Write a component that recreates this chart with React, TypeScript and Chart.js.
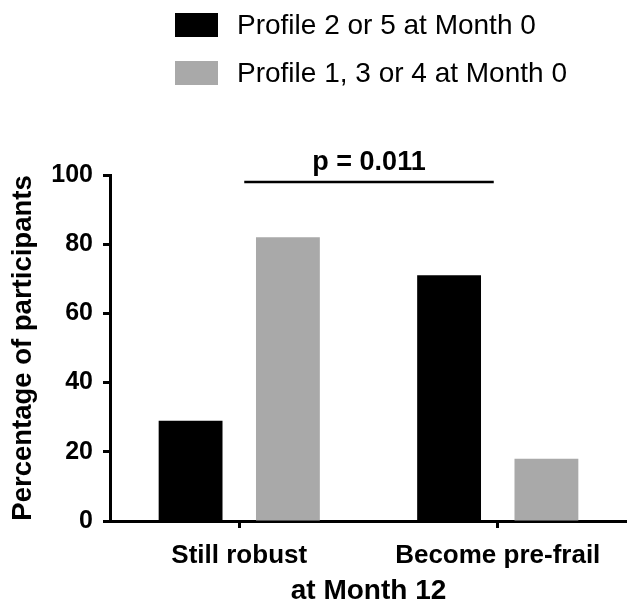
import React, { useEffect, useRef } from "react";
import { Chart, registerables } from "chart.js";

Chart.register(...registerables);

const categories = ["Still robust", "Become pre-frail"];
const seriesLabels = ["Profile 2 or 5 at Month 0", "Profile 1, 3 or 4 at Month 0"];
const profile25 = [29, 71];
const profile134 = [82, 18];
const seriesColors = ["#000000", "#a9a9a9"];
const yTicks = [0, 20, 40, 60, 80, 100];
const yTitle = "Percentage of participants";
const xTitle = "at Month 12";
const pLabel = "p = 0.011";
const pLineValue = 98;
const pTextValue = 104;

const FONT = "'Liberation Sans', Arial, sans-serif";

const overlayPlugin = {
  id: "overlay",
  afterDraw(chart: any) {
    const ctx = chart.ctx;
    const x = chart.scales.x;
    const y = chart.scales.y;
    ctx.save();
    // significance line
    const x0 = x.getPixelForValue(0) + 5;
    const x1 = x.getPixelForValue(1) - 4;
    const ly = y.getPixelForValue(pLineValue);
    ctx.strokeStyle = "#000";
    ctx.lineWidth = 2.5;
    ctx.beginPath();
    ctx.moveTo(x0, ly);
    ctx.lineTo(x1, ly);
    ctx.stroke();
    ctx.fillStyle = "#000";
    ctx.font = `bold 27px ${FONT}`;
    ctx.textAlign = "center";
    ctx.textBaseline = "middle";
    ctx.fillText(pLabel, (x0 + x1) / 2, y.getPixelForValue(pTextValue) + 1);

    // legend
    const ds = chart.data.datasets;
    ctx.font = `28px ${FONT}`;
    ctx.textAlign = "left";
    ds.forEach((d: any, i: number) => {
      const top = 13 + i * 48;
      ctx.fillStyle = d.backgroundColor;
      ctx.fillRect(175, top, 43, 24);
      ctx.fillStyle = "#000";
      ctx.fillText(d.label, 237, top + 13);
    });
    ctx.restore();
  },
};

export default function App() {
  const ref = useRef<HTMLCanvasElement>(null);
  useEffect(() => {
    document.body.style.margin = "0";
    const chart = new Chart(ref.current!, {
      type: "bar",
      data: {
        labels: categories,
        datasets: [
          { label: seriesLabels[0], data: profile25, backgroundColor: seriesColors[0] },
          { label: seriesLabels[1], data: profile134, backgroundColor: seriesColors[1] },
        ],
      },
      options: {
        animation: false,
        responsive: false,
        devicePixelRatio: 1,
        categoryPercentage: 0.753,
        barPercentage: 0.656,
        layout: { padding: { top: 175, left: 0, right: 0, bottom: 0 } },
        plugins: { legend: { display: false }, tooltip: { enabled: false } },
        scales: {
          x: {
            offset: true,
            afterFit: (s: any) => {
              s.height = 84;
            },
            grid: {
              offset: false,
              drawOnChartArea: false,
              tickLength: 7,
              tickWidth: 3,
              tickColor: "#000",
            },
            border: { color: "#000", width: 3 },
            ticks: {
              color: "#000",
              font: { family: FONT, size: 26, weight: "bold" },
              padding: 12,
              maxRotation: 0,
            },
            title: {
              display: true,
              text: xTitle,
              color: "#000",
              font: { family: FONT, size: 28, weight: "bold", lineHeight: 1 },
              padding: { top: 0, bottom: 0 },
            },
          },
          y: {
            min: 0,
            max: 100,
            afterFit: (s: any) => {
              s.width = 110;
            },
            afterBuildTicks: (s: any) => {
              s.ticks = yTicks.map((v) => ({ value: v }));
            },
            grid: {
              drawOnChartArea: false,
              tickLength: 7,
              tickWidth: 3,
              tickColor: "#000",
            },
            border: { color: "#000", width: 3 },
            ticks: {
              color: "#000",
              font: { family: FONT, size: 25, weight: "bold" },
              padding: 10,
            },
            title: {
              display: true,
              text: yTitle,
              color: "#000",
              font: { family: FONT, size: 27.5, weight: "bold", lineHeight: 1 },
              padding: { top: 10, bottom: 0 },
            },
          },
        },
      },
      plugins: [overlayPlugin],
    });
    return () => chart.destroy();
  }, []);
  return (
    <div style={{ width: 627, height: 605 }}>
      <canvas ref={ref} width={627} height={605} />
    </div>
  );
}
